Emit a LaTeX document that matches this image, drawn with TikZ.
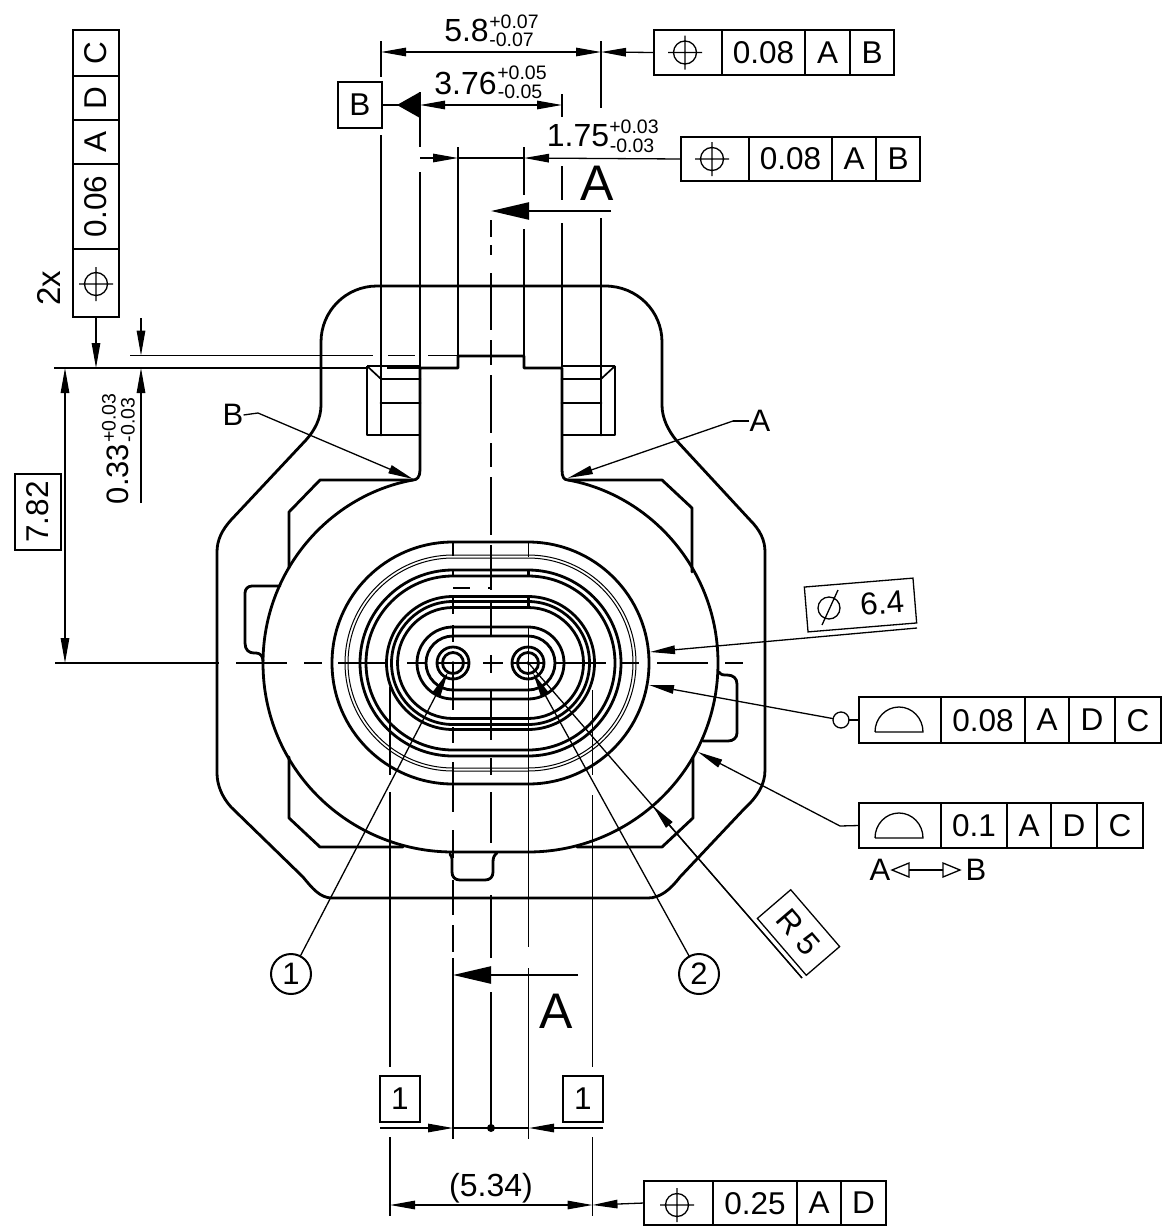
\documentclass[tikz,border=0pt]{standalone}
\usepackage{fontspec}
\setmainfont{Liberation Sans}
\usetikzlibrary{arrows.meta}
\tikzset{
  thinl/.style={line width=1.3pt,line cap=butt},
  thickl/.style={line width=2.8pt,line join=round,line cap=round},
  midl/.style={line width=1.7pt,line join=round},
  arr/.style={thinl,-{Triangle[length=25pt,width=8.5pt]}},
  arrb/.style={thinl,{Triangle[length=25pt,width=8.5pt]}-{Triangle[length=25pt,width=8.5pt]}},
  secarr/.style={line width=2.4pt,-{Triangle[length=38pt,width=17pt]}},
  cell/.style={draw,line width=1.3pt,inner sep=0pt,outer sep=0pt,font=\fontsize{31.5}{31.5}\selectfont,text depth=0pt},
  dimtxt/.style={inner sep=0pt,font=\fontsize{32}{32}\selectfont},
  toltxt/.style={inner sep=0pt,font=\fontsize{19.5}{19.5}\selectfont},
  lbl/.style={inner sep=0pt,font=\fontsize{31}{31}\selectfont},
  bigtxt/.style={inner sep=0pt,font=\fontsize{50}{50}\selectfont},
  balloon/.style={draw,circle,line width=2pt,minimum size=40pt,inner sep=0pt,outer sep=0pt,font=\fontsize{31}{31}\selectfont},
}
\newcommand{\hcell}[6]{\node[cell,minimum width={(#3-#2)*1pt},minimum height={(#5-#4)*1pt}] (#1) at ({(#2+#3)/2},{(#4+#5)/2}) {#6};}
\newcommand{\vcell}[6]{\node[cell,rotate=90,minimum width={(#5-#4)*1pt},minimum height={(#3-#2)*1pt}] (#1) at ({(#2+#3)/2},{(#4+#5)/2}) {#6};}
\newcommand{\posn}[2]{\draw[thinl] (#1,#2) circle (11.5) ({#1-17},#2) -- ({#1+17},#2) (#1,{#2-17}) -- (#1,{#2+17});}
\newcommand{\prof}[2]{\draw[thinl] ({#1-24},#2) -- ({#1+24},#2) arc (0:-180:24 and 25);}
\newcommand{\stad}[2]{\draw[#1] (453,{663-#2}) -- (528,{663-#2}) arc (-90:90:#2) -- (453,{663+#2}) arc (90:270:#2) -- cycle;}
\newcommand{\segs}[2]{\foreach \a/\b in {#2} {\draw[thinl] (#1,\a) -- (#1,\b);}}
\newcommand{\hsegs}[2]{\foreach \a/\b in {#2} {\draw[thinl] (\a,#1) -- (\b,#1);}}
\begin{document}
\begin{tikzpicture}[x=1pt,y=-1pt]
\useasboundingbox (0,0) rectangle (1165,1226);
% --- body outer contour
\draw[thickl] (377,286) -- (605,286) .. controls (637,286) and (662,311) .. (662,342) -- (662,405)
  .. controls (662,418) and (668,430) .. (676,440) -- (750,520) .. controls (760,530) and (765,540) .. (765,552)
  -- (765,770) .. controls (765,785) and (757,797) .. (745,808) -- (680,877) .. controls (670,890) and (660,898) .. (648,898)
  -- (332,898) .. controls (320,898) and (312,888) .. (303,877) -- (231,807) .. controls (222,797) and (217,785) .. (217,773)
  -- (217,552) .. controls (217,540) and (222,530) .. (231,520) -- (306,440) .. controls (315,430) and (321,418) .. (321,405)
  -- (321,342) .. controls (321,311) and (346,286) .. (377,286) -- cycle;
% --- inner oval with neck and notch
\draw[thickl] (420,368) -- (420,470) .. controls (420,477) and (417,480) .. (413,480)
  .. controls (330,495) and (263,570) .. (263,663) .. controls (263,770) and (350,852) .. (453,852)
  -- (528,852) .. controls (631,852) and (718,770) .. (718,663) .. controls (718,570) and (651,495) .. (568,480)
  .. controls (564,480) and (562,477) .. (562,470) -- (562,368) -- (524,368) -- (524,356) -- (458,356) -- (458,368) -- cycle;
% --- inner flange outline
\draw[thickl] (413,480) -- (320,480) -- (289,512) -- (289,568);
\draw[thickl] (568,480) -- (662,480) -- (692,508) -- (692,572);
\draw[thickl] (289,757) -- (289,818) -- (320,847) -- (403,847);
\draw[thickl] (693,757) -- (693,818) -- (662,847) -- (577,847);
% --- side and bottom tabs
\draw[thickl] (280,586) -- (252,586) .. controls (248,586) and (245,589) .. (245,593) -- (245,643) .. controls (245,650) and (249,653) .. (254,653)
  -- (256,653) .. controls (260,653) and (263,656) .. (263,661);
\draw[thickl] (719,672) .. controls (721,675) and (723,675) .. (727,675) .. controls (733,675) and (737,678) .. (737,684) -- (737,733) .. controls (737,738) and (733,741) .. (728,741) -- (703,741);
\draw[thickl] (450,854) .. controls (452,856) and (452,858) .. (452,862) -- (452,872) .. controls (452,877) and (455,880) .. (460,880)
  -- (485,880) .. controls (490,880) and (493,877) .. (493,872) -- (493,862) .. controls (493,858) and (494,855) .. (497,853);
% --- keys
\draw[midl] (367,366) -- (420,366) (367,366) -- (367,435) -- (420,435) (367,366) -- (381,379);
\draw[midl] (615,366) -- (562,366) (615,366) -- (615,435) -- (562,435) (615,366) -- (601,379);
\draw[thickl] (381,435) -- (381,379) -- (420,379) (381,403) -- (420,403);
\draw[thickl] (601,435) -- (601,379) -- (562,379) (601,403) -- (562,403);
% --- concentric seal
\stad{thickl}{121}
\stad{line width=1pt}{108}
\stad{line width=1pt}{105}
\stad{thickl}{93}
\stad{thickl}{87}
\stad{thickl}{66.5}
\stad{thickl}{61.5}
\stad{thickl}{55.5}
\stad{thickl}{36}
\stad{thickl}{27}
\draw[thickl] (453,663) circle (16) (453,663) circle (10.5) (528,663) circle (16) (528,663) circle (10.5);
\fill (453,663) circle (1.8) (528,663) circle (1.8);
% --- centre lines
\hsegs{663}{55/219,236/287,304/322,338/387,407/427,437/469,483/503,513/543,555/606,620/639,657/708,725/743}
\segs{491}{245/255,273/330,340/365,375/433,443/467,477/535,545/590,602/637,655/673,690/740,758/775,792/843,895/958,992/1128}
\segs{453}{542/556,625/642,663/710,727/743,762/812,830/858,880/915,925/952,975/1139}
\segs{528.5}{542/557,627/947,968/1139}
\draw[line width=2.2pt] (453,570) -- (453,575) (453,597) -- (453,614) (528.5,570) -- (528.5,575) (528.5,596) -- (528.5,607);
\draw[line width=2.2pt] (453,588) -- (470,588) (488,588) -- (491,588) -- (491,571);
\draw[line width=2.6pt] (491,220) -- (491,237);
% --- extension lines
\segs{381}{41/77,135/379}
\segs{420}{92/147,172/367}
\segs{458}{147/356}
\segs{524}{147/195,229/356}
\segs{562}{94/117,166/200,223/367}
\segs{601}{41/108,218/379}
\segs{390}{687/775,792/1067,1137/1216}
\segs{592.5}{690/775,795/1067,1137/1216}
\hsegs{355.5}{130/373,388/415,428/458}
\hsegs{368}{54/367,387/420}
% --- feature control frames
\hcell{fa}{654}{722}{30}{75}{}\hcell{fb}{722}{805}{30}{75}{0.08}\hcell{fc}{805}{850}{30}{75}{A}\hcell{fd}{850}{894}{30}{75}{B}
\posn{685}{52.5}
\hcell{ga}{681}{749}{137}{181}{}\hcell{gb}{749}{832}{137}{181}{0.08}\hcell{gc}{832}{876}{137}{181}{A}\hcell{gd}{876}{920}{137}{181}{B}
\posn{712}{159}
\hcell{ha}{644}{713}{1181}{1225}{}\hcell{hb}{713}{797}{1181}{1225}{0.25}\hcell{hc}{797}{841}{1181}{1225}{A}\hcell{hd}{841}{886}{1181}{1225}{D}
\posn{677}{1205}
\hcell{ia}{859}{941}{697}{743}{}\hcell{ib}{941}{1025}{697}{743}{0.08}\hcell{ic}{1025}{1069}{697}{743}{A}\hcell{id}{1069}{1115}{697}{743}{D}\hcell{ie}{1115}{1161}{697}{743}{C}
\prof{899}{732}
\hcell{ja}{859}{941}{803}{848}{}\hcell{jb}{941}{1007}{803}{848}{0.1}\hcell{jc}{1007}{1051}{803}{848}{A}\hcell{jd}{1051}{1097}{803}{848}{D}\hcell{je}{1097}{1143}{803}{848}{C}
\prof{899}{838}
\vcell{ka}{73}{119}{249}{317}{}\vcell{kb}{73}{119}{164}{249}{0.06}\vcell{kc}{73}{119}{120}{164}{A}\vcell{kd}{73}{119}{76}{120}{D}\vcell{ke}{73}{119}{30}{76}{C}
\posn{96}{284}
\node[lbl,rotate=90,font=\fontsize{33}{33}\selectfont] (twox) at (49,288) {2x};
% --- datum and basic boxes
\hcell{bbox}{338}{382}{82}{128}{B}
\hcell{lone}{380}{420}{1076}{1122}{1}
\hcell{rone}{563}{603}{1076}{1122}{1}
\vcell{seven}{15}{61}{474}{550}{7.82}
% --- dimension 5.8
\coordinate (d58a) at (381,52); \coordinate (d58b) at (601,52);
\draw[arrb] (d58a) -- (d58b);
\draw[arr] (fa.west) -- (d58b);
\node[dimtxt] (t58) at (466.5,30) {5.8};
\node[toltxt] (t58p) at (514,21.5) {+0.07};
\node[toltxt] (t58m) at (511.5,39.5) {-0.07};
% --- dimension 3.76
\coordinate (d376a) at (420,105); \coordinate (d376b) at (562,105);
\draw[arrb] (d376a) -- (d376b);
\draw[thinl] (bbox.east) -- (d376a);
\fill (397,105) -- (420,92) -- (420,118) -- cycle;
\node[dimtxt] (t376) at (465.5,83) {3.76};
\node[toltxt] (t376p) at (522,73) {+0.05};
\node[toltxt] (t376m) at (520,92) {-0.05};
% --- dimension 1.75
\coordinate (d175z) at (420,158); \coordinate (d175a) at (458,158); \coordinate (d175b) at (524,158);
\draw[arr] (d175z) -- (d175a);
\draw[thinl] (d175a) -- (d175b);
\draw[arr] (ga.west) -- (d175b);
\node[dimtxt] (t175) at (578,136) {1.75};
\node[toltxt] (t175p) at (634,127) {+0.03};
\node[toltxt] (t175m) at (632,146) {-0.03};
% --- section arrows
\coordinate (sa1) at (611,211); \coordinate (sa2) at (491,211);
\draw[secarr] (sa1) -- (sa2);
\node[bigtxt] (ta1) at (597,183) {A};
\coordinate (sb1) at (578,975); \coordinate (sb2) at (453,975);
\draw[secarr] (sb1) -- (sb2);
\draw[line width=2.6pt] (453,958) -- (453,976);
\node[bigtxt] (ta2) at (556,1011) {A};
% --- left dimensions
\coordinate (p96) at (96,368);
\draw[arr] (ka.west) -- (p96);
\coordinate (d782a) at (65,663); \coordinate (d782b) at (65,368);
\draw[arrb] (d782a) -- (d782b);
\coordinate (d33t) at (141,318); \coordinate (d33a) at (141,355.5);
\coordinate (d33b) at (141,503); \coordinate (d33c) at (141,368);
\draw[arr] (d33t) -- (d33a);
\draw[arr] (d33b) -- (d33c);
\node[dimtxt,rotate=90,font=\fontsize{31}{31}\selectfont] (t033) at (118,474) {0.33};
\node[toltxt,rotate=90] (t033p) at (109,418) {+0.03};
\node[toltxt,rotate=90] (t033m) at (128,420) {-0.03};
% --- A and B leaders
\node[lbl] (lb) at (233,415) {B};
\coordinate (lb1) at (258,413); \coordinate (lbt) at (413,479);
\draw[thinl] (lb.east) -- (lb1);
\draw[arr] (lb1) -- (lbt);
\node[lbl] (la) at (760,421) {A};
\coordinate (la1) at (733,421); \coordinate (lat) at (568,478);
\draw[thinl] (la.west) -- (la1);
\draw[arr] (la1) -- (lat);
% --- diameter
\node[cell,rotate=4.7,minimum width=109pt,minimum height=45pt] (dia) at (860.5,605) {};
\draw[thinl] (829,608) circle (11) (822,625) -- (838,590);
\node[lbl,rotate=4.7,font=\fontsize{31.5}{31.5}\selectfont] (dia64) at (882,603) {6.4};
\coordinate (diae) at (917,628); \coordinate (diat) at (650,652);
\draw[arr] (diae) -- (diat);
% --- profile leaders
\node[draw,circle,line width=1.3pt,minimum size=16pt,inner sep=0pt,outer sep=0pt] (ring) at (841,720) {};
\coordinate (pt1) at (649,685);
\draw[thinl] (ia.west) -- (ring.east);
\draw[arr] (ring.170) -- (pt1);
\coordinate (pk2) at (840,826); \coordinate (pt2) at (698,752);
\draw[thinl] (ja.west) -- (pk2);
\draw[arr] (pk2) -- (pt2);
% --- A<->B
\node[lbl] (ta) at (880,870) {A};
\node[lbl] (tb) at (976,870) {B};
\coordinate (ab1) at (909,870); \coordinate (ab2) at (943,870);
\draw[thinl] (ab1) -- (ab2);
\draw[thinl] (892,870) -- (ab1 |- 0,863) -- (ab1 |- 0,877) -- cycle;
\draw[thinl] (960,870) -- (ab2 |- 0,863) -- (ab2 |- 0,877) -- cycle;
% --- R 5
\node[cell,rotate=-49.3,minimum width=75pt,minimum height=44pt] (rfive) at (798.5,932.5) {R 5};
\coordinate (rc) at (528.5,663); \coordinate (rt) at (653,806); \coordinate (re) at (802,978);
\draw[thinl] (rc) -- (re);
\draw[arr] (re) -- (rt);
% --- balloons
\node[balloon] (one) at (291,974) {1};
\node[balloon] (two) at (699,974) {2};
\coordinate (bt1) at (448,672); \coordinate (bt2) at (533,673);
\draw[arr] (one) -- (bt1);
\draw[arr] (two) -- (bt2);
% --- bottom dimensions
\coordinate (x1) at (380,1128); \coordinate (x2) at (453,1128); \coordinate (x3) at (529,1128); \coordinate (x4) at (603,1128);
\draw[arr] (x1) -- (x2);
\draw[thinl] (x2) -- (x3);
\draw[arr] (x4) -- (x3);
\fill (491,1128) circle (4);
\coordinate (y1) at (390,1205); \coordinate (y2) at (592.5,1205);
\draw[arrb] (y1) -- (y2);
\draw[arr] (ha.west) -- (y2);
\node[dimtxt] (t534) at (491,1188) {(5.34)};
\end{tikzpicture}
\end{document}
